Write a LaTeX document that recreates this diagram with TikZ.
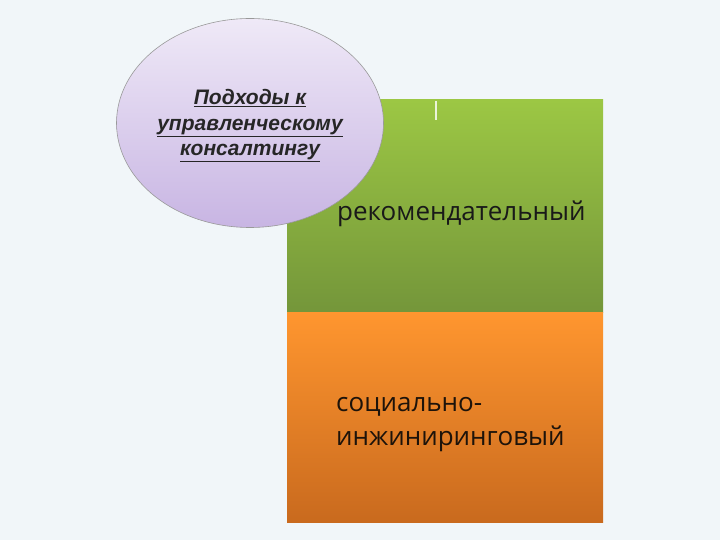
\documentclass[tikz,border=0pt]{standalone}
\usepackage{fontspec}
\setmainfont{Open Sans}
\newfontfamily\ellfont{Liberation Sans}
\usetikzlibrary{shapes.geometric}
\definecolor{fonnen}{HTML}{F1F6F9}
\definecolor{xanhtren}{HTML}{9CC744}
\definecolor{xanhduoi}{HTML}{74963A}
\definecolor{camtren}{HTML}{FF962F}
\definecolor{camduoi}{HTML}{C96A1E}
\definecolor{timtren}{HTML}{EFE9F7}
\definecolor{timduoi}{HTML}{C8B5E3}
\begin{document}
\begin{tikzpicture}[x=1pt,y=-1pt,
	khoi/.style={rectangle,minimum width=316pt,inner sep=0pt,outer sep=0pt},
	chu/.style={anchor=west,align=left,font=\fontsize{26}{34}\selectfont,inner sep=0pt}]
			\fill [fonnen] (0,0) rectangle (720,540);
			\useasboundingbox (0,0) rectangle (720,540);
			\node [khoi, minimum height=212pt, top color=xanhtren, bottom color=xanhduoi] (green) at (445,206) {};
			\node [khoi, minimum height=210pt, top color=camtren, bottom color=camduoi] (orange) at (445,417) {};
			\draw [white!80!xanhtren, line width=1.2pt] (436,101) -- (436,120);
			\node [chu, text=black!90] (rec) at (337,214) {рекомендательный};
			\node [chu, text=black!85!brown] (soc) at (336,425) {социально-\\инжиниринговый};
			\node [ellipse, minimum width=267pt, minimum height=209pt, draw=gray!80, line width=0.6pt,
				top color=timtren, bottom color=timduoi] (oval) at (250,123) {};
			\node [align=center, inner sep=0pt, font=\ellfont\fontsize{21}{25.5}\selectfont\bfseries\itshape,
				text=black!85] (ovaltext) at (250,126)
				{\underline{Подходы к}\\\underline{управленческому}\\\underline{консалтингу}};
		\end{tikzpicture}
\end{document}
